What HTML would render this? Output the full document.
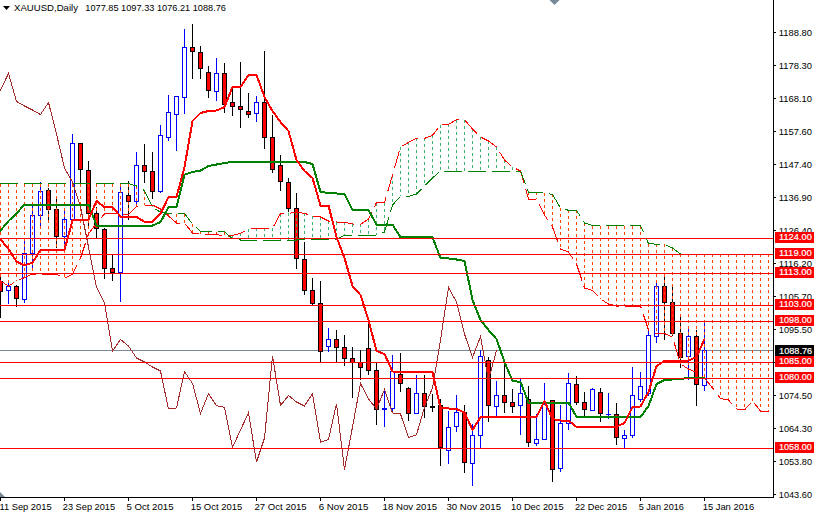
<!DOCTYPE html>
<html><head><meta charset="utf-8"><title>XAUUSD Daily</title>
<style>html,body{margin:0;padding:0;background:#fff;width:814px;height:516px;overflow:hidden}svg{display:block}</style>
</head><body>
<svg width="814" height="516" viewBox="0 0 814 516" shape-rendering="crispEdges">
<rect width="814" height="516" fill="#ffffff"/>
<defs><clipPath id="ca"><rect x="0" y="0" width="773" height="497"/></clipPath></defs>
<g clip-path="url(#ca)">
<line x1="0" y1="350.5" x2="773" y2="350.5" stroke="#778899"/>
<line x1="0.5" y1="276" x2="0.5" y2="318" stroke="#000000"/>
<rect x="-1.5" y="281.5" width="4" height="10" fill="#ff0000" stroke="#000000"/>
<line x1="8.5" y1="282" x2="8.5" y2="304" stroke="#0000ff"/>
<rect x="6.5" y="286.5" width="4" height="4" fill="#ffffff" stroke="#0000ff"/>
<line x1="16.5" y1="285" x2="16.5" y2="307" stroke="#000000"/>
<rect x="14.5" y="286.5" width="4" height="12" fill="#ff0000" stroke="#000000"/>
<line x1="24.5" y1="239" x2="24.5" y2="303" stroke="#0000ff"/>
<rect x="22.5" y="253.5" width="4" height="46" fill="#ffffff" stroke="#0000ff"/>
<line x1="32.5" y1="206" x2="32.5" y2="269" stroke="#0000ff"/>
<rect x="30.5" y="215.5" width="4" height="38" fill="#ffffff" stroke="#0000ff"/>
<line x1="40.5" y1="182" x2="40.5" y2="226" stroke="#0000ff"/>
<rect x="38.5" y="191.5" width="4" height="24" fill="#ffffff" stroke="#0000ff"/>
<line x1="48.5" y1="188" x2="48.5" y2="221" stroke="#000000"/>
<rect x="46.5" y="190.5" width="4" height="19" fill="#ff0000" stroke="#000000"/>
<line x1="56.5" y1="198" x2="56.5" y2="248" stroke="#000000"/>
<rect x="54.5" y="209.5" width="4" height="27" fill="#ff0000" stroke="#000000"/>
<line x1="64.5" y1="211" x2="64.5" y2="247" stroke="#0000ff"/>
<rect x="62.5" y="219.5" width="4" height="17" fill="#ffffff" stroke="#0000ff"/>
<line x1="72.5" y1="134" x2="72.5" y2="222" stroke="#0000ff"/>
<rect x="70.5" y="143.5" width="4" height="76" fill="#ffffff" stroke="#0000ff"/>
<line x1="80.5" y1="143" x2="80.5" y2="185" stroke="#000000"/>
<rect x="78.5" y="143.5" width="4" height="26" fill="#ff0000" stroke="#000000"/>
<line x1="88.5" y1="161" x2="88.5" y2="228" stroke="#000000"/>
<rect x="86.5" y="170.5" width="4" height="43" fill="#ff0000" stroke="#000000"/>
<line x1="96.5" y1="207" x2="96.5" y2="239" stroke="#000000"/>
<rect x="94.5" y="213.5" width="4" height="15" fill="#ff0000" stroke="#000000"/>
<line x1="104.5" y1="228" x2="104.5" y2="279" stroke="#000000"/>
<rect x="102.5" y="229.5" width="4" height="39" fill="#ff0000" stroke="#000000"/>
<line x1="112.5" y1="255" x2="112.5" y2="281" stroke="#000000"/>
<rect x="110.5" y="268.5" width="4" height="4" fill="#ff0000" stroke="#000000"/>
<line x1="120.5" y1="186" x2="120.5" y2="302" stroke="#0000ff"/>
<rect x="118.5" y="192.5" width="4" height="80" fill="#ffffff" stroke="#0000ff"/>
<line x1="128.5" y1="181" x2="128.5" y2="220" stroke="#000000"/>
<rect x="126.5" y="195.5" width="4" height="6" fill="#ff0000" stroke="#000000"/>
<line x1="136.5" y1="152" x2="136.5" y2="207" stroke="#0000ff"/>
<rect x="134.5" y="165.5" width="4" height="36" fill="#ffffff" stroke="#0000ff"/>
<line x1="144.5" y1="144" x2="144.5" y2="183" stroke="#000000"/>
<rect x="142.5" y="165.5" width="4" height="6" fill="#ff0000" stroke="#000000"/>
<line x1="152.5" y1="152" x2="152.5" y2="199" stroke="#000000"/>
<rect x="150.5" y="171.5" width="4" height="20" fill="#ff0000" stroke="#000000"/>
<line x1="160.5" y1="125" x2="160.5" y2="193" stroke="#0000ff"/>
<rect x="158.5" y="135.5" width="4" height="56" fill="#ffffff" stroke="#0000ff"/>
<line x1="168.5" y1="95" x2="168.5" y2="141" stroke="#0000ff"/>
<rect x="166.5" y="112.5" width="4" height="25" fill="#ffffff" stroke="#0000ff"/>
<line x1="176.5" y1="96" x2="176.5" y2="151" stroke="#0000ff"/>
<rect x="174.5" y="96.5" width="4" height="18" fill="#ffffff" stroke="#0000ff"/>
<line x1="184.5" y1="29" x2="184.5" y2="114" stroke="#0000ff"/>
<rect x="182.5" y="47.5" width="4" height="50" fill="#ffffff" stroke="#0000ff"/>
<line x1="192.5" y1="24" x2="192.5" y2="79" stroke="#000000"/>
<rect x="190.5" y="47.5" width="4" height="4" fill="#ff0000" stroke="#000000"/>
<line x1="200.5" y1="46" x2="200.5" y2="79" stroke="#000000"/>
<rect x="198.5" y="52.5" width="4" height="16" fill="#ff0000" stroke="#000000"/>
<line x1="208.5" y1="66" x2="208.5" y2="98" stroke="#000000"/>
<rect x="206.5" y="72.5" width="4" height="18" fill="#ff0000" stroke="#000000"/>
<line x1="216.5" y1="58" x2="216.5" y2="101" stroke="#0000ff"/>
<rect x="214.5" y="73.5" width="4" height="18" fill="#ffffff" stroke="#0000ff"/>
<line x1="224.5" y1="63" x2="224.5" y2="113" stroke="#000000"/>
<rect x="222.5" y="73.5" width="4" height="31" fill="#ff0000" stroke="#000000"/>
<line x1="232.5" y1="86" x2="232.5" y2="116" stroke="#000000"/>
<rect x="230.5" y="102.5" width="4" height="4" fill="#ff0000" stroke="#000000"/>
<line x1="240.5" y1="62" x2="240.5" y2="128" stroke="#000000"/>
<rect x="238.5" y="106.5" width="4" height="3" fill="#ff0000" stroke="#000000"/>
<line x1="248.5" y1="93" x2="248.5" y2="118" stroke="#000000"/>
<rect x="246.5" y="111.5" width="4" height="3" fill="#ff0000" stroke="#000000"/>
<line x1="256.5" y1="96" x2="256.5" y2="122" stroke="#0000ff"/>
<rect x="254.5" y="102.5" width="4" height="11" fill="#ffffff" stroke="#0000ff"/>
<line x1="264.5" y1="51" x2="264.5" y2="149" stroke="#000000"/>
<rect x="262.5" y="102.5" width="4" height="35" fill="#ff0000" stroke="#000000"/>
<line x1="272.5" y1="115" x2="272.5" y2="173" stroke="#000000"/>
<rect x="270.5" y="137.5" width="4" height="32" fill="#ff0000" stroke="#000000"/>
<line x1="280.5" y1="155" x2="280.5" y2="191" stroke="#000000"/>
<rect x="278.5" y="165.5" width="4" height="16" fill="#ff0000" stroke="#000000"/>
<line x1="288.5" y1="178" x2="288.5" y2="212" stroke="#000000"/>
<rect x="286.5" y="182.5" width="4" height="26" fill="#ff0000" stroke="#000000"/>
<line x1="296.5" y1="193" x2="296.5" y2="269" stroke="#000000"/>
<rect x="294.5" y="208.5" width="4" height="50" fill="#ff0000" stroke="#000000"/>
<line x1="304.5" y1="242" x2="304.5" y2="295" stroke="#000000"/>
<rect x="302.5" y="259.5" width="4" height="31" fill="#ff0000" stroke="#000000"/>
<line x1="312.5" y1="278" x2="312.5" y2="306" stroke="#000000"/>
<rect x="310.5" y="290.5" width="4" height="13" fill="#ff0000" stroke="#000000"/>
<line x1="320.5" y1="281" x2="320.5" y2="362" stroke="#000000"/>
<rect x="318.5" y="303.5" width="4" height="48" fill="#ff0000" stroke="#000000"/>
<line x1="328.5" y1="328" x2="328.5" y2="352" stroke="#0000ff"/>
<rect x="326.5" y="339.5" width="4" height="7" fill="#ffffff" stroke="#0000ff"/>
<line x1="336.5" y1="330" x2="336.5" y2="362" stroke="#000000"/>
<rect x="334.5" y="339.5" width="4" height="8" fill="#ff0000" stroke="#000000"/>
<line x1="344.5" y1="335" x2="344.5" y2="366" stroke="#000000"/>
<rect x="342.5" y="347.5" width="4" height="11" fill="#ff0000" stroke="#000000"/>
<line x1="352.5" y1="347" x2="352.5" y2="398" stroke="#000000"/>
<rect x="350.5" y="358.5" width="4" height="4" fill="#ff0000" stroke="#000000"/>
<line x1="360.5" y1="350" x2="360.5" y2="380" stroke="#000000"/>
<rect x="358.5" y="362.5" width="4" height="5" fill="#ff0000" stroke="#000000"/>
<line x1="368.5" y1="324" x2="368.5" y2="375" stroke="#000000"/>
<rect x="366.5" y="348.5" width="4" height="22" fill="#ff0000" stroke="#000000"/>
<line x1="376.5" y1="363" x2="376.5" y2="425" stroke="#000000"/>
<rect x="374.5" y="370.5" width="4" height="39" fill="#ff0000" stroke="#000000"/>
<line x1="384.5" y1="391" x2="384.5" y2="427" stroke="#0000ff"/>
<line x1="382" y1="408.5" x2="387" y2="408.5" stroke="#0000ff"/>
<line x1="382" y1="409.5" x2="387" y2="409.5" stroke="#0000ff"/>
<line x1="392.5" y1="355" x2="392.5" y2="412" stroke="#0000ff"/>
<rect x="390.5" y="371.5" width="4" height="37" fill="#ffffff" stroke="#0000ff"/>
<line x1="400.5" y1="353" x2="400.5" y2="392" stroke="#000000"/>
<rect x="398.5" y="374.5" width="4" height="9" fill="#ff0000" stroke="#000000"/>
<line x1="408.5" y1="387" x2="408.5" y2="421" stroke="#000000"/>
<rect x="406.5" y="388.5" width="4" height="25" fill="#ff0000" stroke="#000000"/>
<line x1="416.5" y1="375" x2="416.5" y2="414" stroke="#0000ff"/>
<rect x="414.5" y="393.5" width="4" height="20" fill="#ffffff" stroke="#0000ff"/>
<line x1="424.5" y1="375" x2="424.5" y2="418" stroke="#000000"/>
<rect x="422.5" y="393.5" width="4" height="13" fill="#ff0000" stroke="#000000"/>
<line x1="432.5" y1="394" x2="432.5" y2="412" stroke="#000000"/>
<line x1="430" y1="406.5" x2="435" y2="406.5" stroke="#000000"/>
<line x1="430" y1="407.5" x2="435" y2="407.5" stroke="#000000"/>
<line x1="440.5" y1="399" x2="440.5" y2="466" stroke="#000000"/>
<rect x="438.5" y="405.5" width="4" height="42" fill="#ff0000" stroke="#000000"/>
<line x1="448.5" y1="411" x2="448.5" y2="464" stroke="#0000ff"/>
<rect x="446.5" y="427.5" width="4" height="23" fill="#ffffff" stroke="#0000ff"/>
<line x1="456.5" y1="395" x2="456.5" y2="432" stroke="#0000ff"/>
<rect x="454.5" y="412.5" width="4" height="14" fill="#ffffff" stroke="#0000ff"/>
<line x1="464.5" y1="405" x2="464.5" y2="473" stroke="#000000"/>
<rect x="462.5" y="412.5" width="4" height="50" fill="#ff0000" stroke="#000000"/>
<line x1="472.5" y1="424" x2="472.5" y2="486" stroke="#0000ff"/>
<rect x="470.5" y="435.5" width="4" height="28" fill="#ffffff" stroke="#0000ff"/>
<line x1="480.5" y1="350" x2="480.5" y2="449" stroke="#0000ff"/>
<rect x="478.5" y="356.5" width="4" height="79" fill="#ffffff" stroke="#0000ff"/>
<line x1="488.5" y1="357" x2="488.5" y2="422" stroke="#000000"/>
<rect x="486.5" y="360.5" width="4" height="45" fill="#ff0000" stroke="#000000"/>
<line x1="496.5" y1="381" x2="496.5" y2="416" stroke="#0000ff"/>
<rect x="494.5" y="395.5" width="4" height="11" fill="#ffffff" stroke="#0000ff"/>
<line x1="504.5" y1="364" x2="504.5" y2="413" stroke="#000000"/>
<rect x="502.5" y="395.5" width="4" height="7" fill="#ff0000" stroke="#000000"/>
<line x1="512.5" y1="389" x2="512.5" y2="413" stroke="#000000"/>
<rect x="510.5" y="402.5" width="4" height="4" fill="#ff0000" stroke="#000000"/>
<line x1="520.5" y1="379" x2="520.5" y2="435" stroke="#0000ff"/>
<rect x="518.5" y="393.5" width="4" height="12" fill="#ffffff" stroke="#0000ff"/>
<line x1="528.5" y1="386" x2="528.5" y2="447" stroke="#000000"/>
<rect x="526.5" y="399.5" width="4" height="43" fill="#ff0000" stroke="#000000"/>
<line x1="536.5" y1="414" x2="536.5" y2="446" stroke="#0000ff"/>
<rect x="534.5" y="439.5" width="4" height="4" fill="#ffffff" stroke="#0000ff"/>
<line x1="544.5" y1="383" x2="544.5" y2="440" stroke="#0000ff"/>
<rect x="542.5" y="404.5" width="4" height="35" fill="#ffffff" stroke="#0000ff"/>
<line x1="552.5" y1="400" x2="552.5" y2="482" stroke="#000000"/>
<rect x="550.5" y="400.5" width="4" height="69" fill="#ff0000" stroke="#000000"/>
<line x1="560.5" y1="405" x2="560.5" y2="472" stroke="#0000ff"/>
<rect x="558.5" y="423.5" width="4" height="45" fill="#ffffff" stroke="#0000ff"/>
<line x1="568.5" y1="373" x2="568.5" y2="430" stroke="#0000ff"/>
<rect x="566.5" y="383.5" width="4" height="40" fill="#ffffff" stroke="#0000ff"/>
<line x1="576.5" y1="376" x2="576.5" y2="405" stroke="#000000"/>
<rect x="574.5" y="384.5" width="4" height="18" fill="#ff0000" stroke="#000000"/>
<line x1="584.5" y1="392" x2="584.5" y2="416" stroke="#000000"/>
<rect x="582.5" y="402.5" width="4" height="7" fill="#ff0000" stroke="#000000"/>
<line x1="592.5" y1="388" x2="592.5" y2="411" stroke="#0000ff"/>
<rect x="590.5" y="389.5" width="4" height="21" fill="#ffffff" stroke="#0000ff"/>
<line x1="600.5" y1="388" x2="600.5" y2="422" stroke="#000000"/>
<rect x="598.5" y="392.5" width="4" height="21" fill="#ff0000" stroke="#000000"/>
<line x1="608.5" y1="393" x2="608.5" y2="419" stroke="#0000ff"/>
<line x1="606" y1="414.5" x2="611" y2="414.5" stroke="#0000ff"/>
<line x1="616.5" y1="403" x2="616.5" y2="445" stroke="#000000"/>
<rect x="614.5" y="414.5" width="4" height="23" fill="#ff0000" stroke="#000000"/>
<line x1="624.5" y1="430" x2="624.5" y2="448" stroke="#0000ff"/>
<rect x="622.5" y="435.5" width="4" height="3" fill="#ffffff" stroke="#0000ff"/>
<line x1="632.5" y1="367" x2="632.5" y2="438" stroke="#0000ff"/>
<rect x="630.5" y="395.5" width="4" height="40" fill="#ffffff" stroke="#0000ff"/>
<line x1="640.5" y1="372" x2="640.5" y2="402" stroke="#0000ff"/>
<rect x="638.5" y="386.5" width="4" height="13" fill="#ffffff" stroke="#0000ff"/>
<line x1="648.5" y1="331" x2="648.5" y2="396" stroke="#0000ff"/>
<rect x="646.5" y="335.5" width="4" height="58" fill="#ffffff" stroke="#0000ff"/>
<line x1="656.5" y1="283" x2="656.5" y2="343" stroke="#0000ff"/>
<rect x="654.5" y="286.5" width="4" height="50" fill="#ffffff" stroke="#0000ff"/>
<line x1="664.5" y1="275" x2="664.5" y2="340" stroke="#000000"/>
<rect x="662.5" y="286.5" width="4" height="16" fill="#ff0000" stroke="#000000"/>
<line x1="672.5" y1="286" x2="672.5" y2="336" stroke="#000000"/>
<rect x="670.5" y="302.5" width="4" height="31" fill="#ff0000" stroke="#000000"/>
<line x1="680.5" y1="317" x2="680.5" y2="368" stroke="#000000"/>
<rect x="678.5" y="333.5" width="4" height="24" fill="#ff0000" stroke="#000000"/>
<line x1="688.5" y1="326" x2="688.5" y2="380" stroke="#0000ff"/>
<rect x="686.5" y="336.5" width="4" height="20" fill="#ffffff" stroke="#0000ff"/>
<line x1="696.5" y1="330" x2="696.5" y2="406" stroke="#000000"/>
<rect x="694.5" y="336.5" width="4" height="48" fill="#ff0000" stroke="#000000"/>
<line x1="704.5" y1="323" x2="704.5" y2="391" stroke="#0000ff"/>
<rect x="702.5" y="350.5" width="4" height="35" fill="#ffffff" stroke="#0000ff"/>
<line x1="0.5" y1="184" x2="0.5" y2="281" stroke="#ff4500" stroke-dasharray="3,3"/>
<line x1="8.5" y1="184" x2="8.5" y2="286" stroke="#ff4500" stroke-dasharray="3,3"/>
<line x1="16.5" y1="184" x2="16.5" y2="281" stroke="#ff4500" stroke-dasharray="3,3"/>
<line x1="24.5" y1="184" x2="24.5" y2="278" stroke="#ff4500" stroke-dasharray="3,3"/>
<line x1="32.5" y1="184" x2="32.5" y2="274" stroke="#ff4500" stroke-dasharray="3,3"/>
<line x1="40.5" y1="184" x2="40.5" y2="274" stroke="#ff4500" stroke-dasharray="3,3"/>
<line x1="48.5" y1="184" x2="48.5" y2="274" stroke="#ff4500" stroke-dasharray="3,3"/>
<line x1="56.5" y1="184" x2="56.5" y2="274" stroke="#ff4500" stroke-dasharray="3,3"/>
<line x1="64.5" y1="184" x2="64.5" y2="278" stroke="#ff4500" stroke-dasharray="3,3"/>
<line x1="72.5" y1="184" x2="72.5" y2="274" stroke="#ff4500" stroke-dasharray="3,3"/>
<line x1="80.5" y1="184" x2="80.5" y2="258" stroke="#ff4500" stroke-dasharray="3,3"/>
<line x1="88.5" y1="184" x2="88.5" y2="234" stroke="#ff4500" stroke-dasharray="3,3"/>
<line x1="96.5" y1="184" x2="96.5" y2="223" stroke="#ff4500" stroke-dasharray="3,3"/>
<line x1="104.5" y1="184" x2="104.5" y2="214" stroke="#ff4500" stroke-dasharray="3,3"/>
<line x1="112.5" y1="184" x2="112.5" y2="214" stroke="#ff4500" stroke-dasharray="3,3"/>
<line x1="120.5" y1="184" x2="120.5" y2="214" stroke="#ff4500" stroke-dasharray="3,3"/>
<line x1="128.5" y1="184" x2="128.5" y2="214" stroke="#ff4500" stroke-dasharray="3,3"/>
<line x1="136.5" y1="186" x2="136.5" y2="206" stroke="#ff4500" stroke-dasharray="3,3"/>
<line x1="144.5" y1="191" x2="144.5" y2="205" stroke="#ff4500" stroke-dasharray="3,3"/>
<line x1="152.5" y1="205" x2="152.5" y2="207" stroke="#3cb371" stroke-dasharray="3,3"/>
<line x1="160.5" y1="209" x2="160.5" y2="212" stroke="#3cb371" stroke-dasharray="3,3"/>
<line x1="168.5" y1="214" x2="168.5" y2="216" stroke="#ff4500" stroke-dasharray="3,3"/>
<line x1="176.5" y1="214" x2="176.5" y2="223" stroke="#ff4500" stroke-dasharray="3,3"/>
<line x1="184.5" y1="214" x2="184.5" y2="223" stroke="#ff4500" stroke-dasharray="3,3"/>
<line x1="192.5" y1="224" x2="192.5" y2="233" stroke="#ff4500" stroke-dasharray="3,3"/>
<line x1="200.5" y1="232" x2="200.5" y2="234" stroke="#ff4500" stroke-dasharray="3,3"/>
<line x1="208.5" y1="232" x2="208.5" y2="235" stroke="#ff4500" stroke-dasharray="3,3"/>
<line x1="216.5" y1="232" x2="216.5" y2="234" stroke="#ff4500" stroke-dasharray="3,3"/>
<line x1="224.5" y1="232" x2="224.5" y2="237" stroke="#ff4500" stroke-dasharray="3,3"/>
<line x1="232.5" y1="235" x2="232.5" y2="239" stroke="#3cb371" stroke-dasharray="3,3"/>
<line x1="240.5" y1="233" x2="240.5" y2="240" stroke="#3cb371" stroke-dasharray="3,3"/>
<line x1="248.5" y1="229" x2="248.5" y2="240" stroke="#3cb371" stroke-dasharray="3,3"/>
<line x1="256.5" y1="228" x2="256.5" y2="240" stroke="#3cb371" stroke-dasharray="3,3"/>
<line x1="264.5" y1="228" x2="264.5" y2="240" stroke="#3cb371" stroke-dasharray="3,3"/>
<line x1="272.5" y1="228" x2="272.5" y2="240" stroke="#3cb371" stroke-dasharray="3,3"/>
<line x1="280.5" y1="214" x2="280.5" y2="240" stroke="#3cb371" stroke-dasharray="3,3"/>
<line x1="288.5" y1="213" x2="288.5" y2="240" stroke="#3cb371" stroke-dasharray="3,3"/>
<line x1="296.5" y1="212" x2="296.5" y2="240" stroke="#3cb371" stroke-dasharray="3,3"/>
<line x1="304.5" y1="213" x2="304.5" y2="239" stroke="#3cb371" stroke-dasharray="3,3"/>
<line x1="312.5" y1="216" x2="312.5" y2="239" stroke="#3cb371" stroke-dasharray="3,3"/>
<line x1="320.5" y1="217" x2="320.5" y2="239" stroke="#3cb371" stroke-dasharray="3,3"/>
<line x1="328.5" y1="221" x2="328.5" y2="239" stroke="#3cb371" stroke-dasharray="3,3"/>
<line x1="336.5" y1="222" x2="336.5" y2="239" stroke="#3cb371" stroke-dasharray="3,3"/>
<line x1="344.5" y1="222" x2="344.5" y2="235" stroke="#3cb371" stroke-dasharray="3,3"/>
<line x1="352.5" y1="224" x2="352.5" y2="235" stroke="#3cb371" stroke-dasharray="3,3"/>
<line x1="360.5" y1="224" x2="360.5" y2="235" stroke="#3cb371" stroke-dasharray="3,3"/>
<line x1="368.5" y1="219" x2="368.5" y2="235" stroke="#3cb371" stroke-dasharray="3,3"/>
<line x1="376.5" y1="203" x2="376.5" y2="235" stroke="#3cb371" stroke-dasharray="3,3"/>
<line x1="384.5" y1="203" x2="384.5" y2="232" stroke="#3cb371" stroke-dasharray="3,3"/>
<line x1="392.5" y1="175" x2="392.5" y2="205" stroke="#3cb371" stroke-dasharray="3,3"/>
<line x1="400.5" y1="147" x2="400.5" y2="196" stroke="#3cb371" stroke-dasharray="3,3"/>
<line x1="408.5" y1="142" x2="408.5" y2="196" stroke="#3cb371" stroke-dasharray="3,3"/>
<line x1="416.5" y1="138" x2="416.5" y2="194" stroke="#3cb371" stroke-dasharray="3,3"/>
<line x1="424.5" y1="138" x2="424.5" y2="186" stroke="#3cb371" stroke-dasharray="3,3"/>
<line x1="432.5" y1="135" x2="432.5" y2="178" stroke="#3cb371" stroke-dasharray="3,3"/>
<line x1="440.5" y1="125" x2="440.5" y2="171" stroke="#3cb371" stroke-dasharray="3,3"/>
<line x1="448.5" y1="124" x2="448.5" y2="171" stroke="#3cb371" stroke-dasharray="3,3"/>
<line x1="456.5" y1="120" x2="456.5" y2="171" stroke="#3cb371" stroke-dasharray="3,3"/>
<line x1="464.5" y1="120" x2="464.5" y2="171" stroke="#3cb371" stroke-dasharray="3,3"/>
<line x1="472.5" y1="129" x2="472.5" y2="171" stroke="#3cb371" stroke-dasharray="3,3"/>
<line x1="480.5" y1="137" x2="480.5" y2="171" stroke="#3cb371" stroke-dasharray="3,3"/>
<line x1="488.5" y1="141" x2="488.5" y2="171" stroke="#3cb371" stroke-dasharray="3,3"/>
<line x1="496.5" y1="147" x2="496.5" y2="171" stroke="#3cb371" stroke-dasharray="3,3"/>
<line x1="504.5" y1="160" x2="504.5" y2="171" stroke="#3cb371" stroke-dasharray="3,3"/>
<line x1="512.5" y1="167" x2="512.5" y2="171" stroke="#3cb371" stroke-dasharray="3,3"/>
<line x1="528.5" y1="192" x2="528.5" y2="199" stroke="#ff4500" stroke-dasharray="3,3"/>
<line x1="536.5" y1="192" x2="536.5" y2="199" stroke="#ff4500" stroke-dasharray="3,3"/>
<line x1="544.5" y1="193" x2="544.5" y2="215" stroke="#ff4500" stroke-dasharray="3,3"/>
<line x1="552.5" y1="194" x2="552.5" y2="227" stroke="#ff4500" stroke-dasharray="3,3"/>
<line x1="560.5" y1="208" x2="560.5" y2="249" stroke="#ff4500" stroke-dasharray="3,3"/>
<line x1="568.5" y1="210" x2="568.5" y2="252" stroke="#ff4500" stroke-dasharray="3,3"/>
<line x1="576.5" y1="210" x2="576.5" y2="264" stroke="#ff4500" stroke-dasharray="3,3"/>
<line x1="584.5" y1="223" x2="584.5" y2="288" stroke="#ff4500" stroke-dasharray="3,3"/>
<line x1="592.5" y1="226" x2="592.5" y2="290" stroke="#ff4500" stroke-dasharray="3,3"/>
<line x1="600.5" y1="226" x2="600.5" y2="299" stroke="#ff4500" stroke-dasharray="3,3"/>
<line x1="608.5" y1="226" x2="608.5" y2="304" stroke="#ff4500" stroke-dasharray="3,3"/>
<line x1="616.5" y1="226" x2="616.5" y2="306" stroke="#ff4500" stroke-dasharray="3,3"/>
<line x1="624.5" y1="226" x2="624.5" y2="306" stroke="#ff4500" stroke-dasharray="3,3"/>
<line x1="632.5" y1="226" x2="632.5" y2="306" stroke="#ff4500" stroke-dasharray="3,3"/>
<line x1="640.5" y1="226" x2="640.5" y2="306" stroke="#ff4500" stroke-dasharray="3,3"/>
<line x1="648.5" y1="244" x2="648.5" y2="330" stroke="#ff4500" stroke-dasharray="3,3"/>
<line x1="656.5" y1="244" x2="656.5" y2="334" stroke="#ff4500" stroke-dasharray="3,3"/>
<line x1="664.5" y1="244" x2="664.5" y2="334" stroke="#ff4500" stroke-dasharray="3,3"/>
<line x1="672.5" y1="248" x2="672.5" y2="337" stroke="#ff4500" stroke-dasharray="3,3"/>
<line x1="680.5" y1="254" x2="680.5" y2="364" stroke="#ff4500" stroke-dasharray="3,3"/>
<line x1="688.5" y1="254" x2="688.5" y2="369" stroke="#ff4500" stroke-dasharray="3,3"/>
<line x1="696.5" y1="254" x2="696.5" y2="372" stroke="#ff4500" stroke-dasharray="3,3"/>
<line x1="704.5" y1="254" x2="704.5" y2="378" stroke="#ff4500" stroke-dasharray="3,3"/>
<line x1="712.5" y1="254" x2="712.5" y2="388" stroke="#ff4500" stroke-dasharray="3,3"/>
<line x1="720.5" y1="254" x2="720.5" y2="398" stroke="#ff4500" stroke-dasharray="3,3"/>
<line x1="728.5" y1="254" x2="728.5" y2="400" stroke="#ff4500" stroke-dasharray="3,3"/>
<line x1="736.5" y1="254" x2="736.5" y2="409" stroke="#ff4500" stroke-dasharray="3,3"/>
<line x1="744.5" y1="254" x2="744.5" y2="410" stroke="#ff4500" stroke-dasharray="3,3"/>
<line x1="752.5" y1="254" x2="752.5" y2="401" stroke="#ff4500" stroke-dasharray="3,3"/>
<line x1="760.5" y1="254" x2="760.5" y2="411" stroke="#ff4500" stroke-dasharray="3,3"/>
<line x1="768.5" y1="254" x2="768.5" y2="412" stroke="#ff4500" stroke-dasharray="3,3"/>
<polyline points="-7.5,276.00 0.5,281.00 8.5,286.00 16.5,281.00 24.5,277.60 32.5,274.00 40.5,274.00 48.5,274.50 56.5,274.40 64.5,278.40 72.5,274.00 80.5,258.00 88.5,234.00 96.5,223.00 104.5,214.00 112.5,213.70 120.5,214.30 128.5,214.30 136.5,206.50 144.5,205.00 152.5,205.00 160.5,209.00 168.5,216.00 176.5,223.00 184.5,223.00 192.5,233.00 200.5,233.50 208.5,235.00 216.5,234.00 224.5,237.00 232.5,235.40 240.5,233.30 248.5,229.00 256.5,228.30 264.5,228.30 272.5,228.30 280.5,213.50 288.5,213.30 296.5,212.50 304.5,213.30 312.5,216.00 320.5,217.00 328.5,221.00 336.5,222.00 344.5,222.40 352.5,224.00 360.5,224.50 368.5,219.00 376.5,202.60 384.5,202.60 392.5,175.00 400.5,147.00 408.5,142.40 416.5,138.40 424.5,138.40 432.5,135.30 440.5,125.00 448.5,124.50 456.5,119.60 464.5,119.60 472.5,129.00 480.5,137.00 488.5,141.00 496.5,147.00 504.5,160.00 512.5,167.00 520.5,171.00 528.5,199.00 536.5,199.00 544.5,215.00 552.5,227.00 560.5,249.00 568.5,252.00 576.5,264.00 584.5,288.00 592.5,290.50 600.5,299.00 608.5,304.00 616.5,306.00 624.5,306.00 632.5,306.00 640.5,306.00 648.5,330.00 656.5,333.60 664.5,333.60 672.5,337.00 680.5,364.00 688.5,369.00 696.5,372.50 704.5,378.00 712.5,388.00 720.5,398.50 728.5,400.00 736.5,409.00 744.5,410.00 752.5,401.00 760.5,411.00 768.5,412.00" fill="none" stroke="#ff0000" stroke-dasharray="18,6" stroke-dashoffset="16.5"/>
<polyline points="-7.5,183.50 0.5,183.50 8.5,183.50 16.5,183.50 24.5,183.50 32.5,183.50 40.5,183.50 48.5,183.50 56.5,183.50 64.5,183.50 72.5,183.50 80.5,183.50 88.5,183.50 96.5,183.50 104.5,183.50 112.5,183.50 120.5,183.50 128.5,183.50 136.5,186.00 144.5,190.60 152.5,207.00 160.5,212.30 168.5,213.60 176.5,213.60 184.5,213.60 192.5,224.00 200.5,231.50 208.5,231.50 216.5,231.50 224.5,231.50 232.5,239.00 240.5,240.00 248.5,240.00 256.5,240.00 264.5,240.00 272.5,240.00 280.5,240.00 288.5,240.00 296.5,240.00 304.5,239.30 312.5,239.30 320.5,239.30 328.5,239.30 336.5,239.30 344.5,235.10 352.5,235.10 360.5,235.10 368.5,235.10 376.5,235.10 384.5,232.00 392.5,205.00 400.5,196.40 408.5,196.40 416.5,194.00 424.5,186.00 432.5,178.00 440.5,171.00 448.5,171.00 456.5,171.00 464.5,171.00 472.5,171.00 480.5,171.00 488.5,171.00 496.5,171.00 504.5,171.00 512.5,171.00 520.5,171.00 528.5,192.40 536.5,192.40 544.5,193.00 552.5,194.40 560.5,208.00 568.5,210.30 576.5,210.30 584.5,223.00 592.5,225.50 600.5,225.50 608.5,225.50 616.5,225.50 624.5,225.50 632.5,225.50 640.5,225.50 648.5,243.50 656.5,244.30 664.5,244.30 672.5,248.00 680.5,254.00 688.5,254.00 696.5,254.00 704.5,254.00 712.5,254.00 720.5,254.00 728.5,254.00 736.5,254.00 744.5,254.00 752.5,254.00 760.5,254.00 768.5,254.00" fill="none" stroke="#008000" stroke-dasharray="18,6" stroke-dashoffset="16.5"/>
<polyline points="-7.5,106.60 0.5,90.00 8.5,73.40 16.5,101.50 24.5,106.00 32.5,110.00 40.5,114.50 48.5,102.50 56.5,134.00 64.5,168.00 72.5,182.00 80.5,207.00 88.5,247.00 96.5,287.00 104.5,303.00 112.5,351.00 120.5,339.50 128.5,346.00 136.5,358.00 144.5,362.00 152.5,367.00 160.5,371.00 168.5,409.00 176.5,408.00 184.5,371.50 192.5,383.50 200.5,413.40 208.5,393.50 216.5,405.80 224.5,407.20 232.5,447.30 240.5,430.00 248.5,412.70 256.5,462.00 264.5,438.00 272.5,356.00 280.5,405.50 288.5,395.50 296.5,402.00 304.5,406.00 312.5,393.50 320.5,442.00 328.5,439.50 336.5,403.60 344.5,469.50 352.5,427.00 360.5,383.50 368.5,399.00 376.5,409.00 384.5,389.50 392.5,413.00 400.5,414.00 408.5,437.40 416.5,434.80 424.5,407.00 432.5,388.00 440.5,340.00 448.5,287.50 456.5,302.00 464.5,334.00 472.5,357.50 480.5,336.60 488.5,380.00 496.5,350.50" fill="none" stroke="#a52a2a" stroke-width="1"/>
<polyline points="-7.5,240.00 0.5,230.50 8.5,221.00 16.5,213.50 24.5,204.50 32.5,204.50 40.5,204.50 48.5,204.50 56.5,204.50 64.5,204.50 72.5,204.50 80.5,204.50 88.5,204.50 96.5,225.50 104.5,225.50 112.5,225.50 120.5,225.50 128.5,225.50 136.5,225.50 144.5,225.50 152.5,225.50 160.5,222.00 168.5,207.30 176.5,207.30 184.5,174.60 192.5,172.00 200.5,170.50 208.5,166.00 216.5,164.50 224.5,163.00 232.5,162.00 240.5,162.00 248.5,162.00 256.5,162.00 264.5,162.00 272.5,162.00 280.5,162.00 288.5,162.00 296.5,162.00 304.5,162.00 312.5,164.00 320.5,192.00 328.5,193.00 336.5,193.50 344.5,194.00 352.5,210.00 360.5,210.00 368.5,210.00 376.5,224.60 384.5,224.60 392.5,224.60 400.5,237.30 408.5,237.30 416.5,237.30 424.5,237.30 432.5,237.30 440.5,258.00 448.5,258.50 456.5,259.50 464.5,261.00 472.5,300.00 480.5,320.00 488.5,330.00 496.5,339.00 504.5,362.00 512.5,381.00 520.5,382.00 528.5,402.50 536.5,402.50 544.5,402.50 552.5,402.50 560.5,402.50 568.5,402.50 576.5,417.00 584.5,417.00 592.5,417.00 600.5,417.00 608.5,417.00 616.5,417.00 624.5,417.00 632.5,417.00 640.5,417.00 648.5,406.00 656.5,384.00 664.5,380.00 672.5,379.50 680.5,379.00 688.5,378.00 696.5,378.00 704.5,378.00" fill="none" stroke="#008000" stroke-width="2" stroke-linejoin="round"/>
<polyline points="-7.5,229.60 0.5,239.30 8.5,249.00 16.5,261.50 24.5,265.50 32.5,262.50 40.5,250.00 48.5,250.00 56.5,250.00 64.5,250.00 72.5,220.50 80.5,220.00 88.5,219.50 96.5,201.00 104.5,207.00 112.5,207.00 120.5,216.50 128.5,216.50 136.5,217.00 144.5,221.80 152.5,221.80 160.5,213.60 168.5,197.20 176.5,197.00 184.5,167.00 192.5,121.00 200.5,113.00 208.5,111.00 216.5,110.50 224.5,107.00 232.5,86.80 240.5,86.80 248.5,75.00 256.5,75.00 264.5,97.00 272.5,111.00 280.5,122.00 288.5,131.00 296.5,160.00 304.5,171.00 312.5,178.00 320.5,205.50 328.5,205.50 336.5,237.00 344.5,258.00 352.5,286.00 360.5,295.00 368.5,320.00 376.5,351.00 384.5,354.00 392.5,371.50 400.5,372.00 408.5,372.00 416.5,372.00 424.5,372.00 432.5,372.50 440.5,408.00 448.5,408.50 456.5,409.00 464.5,412.50 472.5,430.00 480.5,417.00 488.5,417.00 496.5,417.00 504.5,417.00 512.5,417.00 520.5,417.00 528.5,417.00 536.5,417.00 544.5,401.00 552.5,419.00 560.5,420.50 568.5,420.50 576.5,427.00 584.5,427.00 592.5,427.00 600.5,427.00 608.5,427.00 616.5,426.50 624.5,423.00 632.5,407.00 640.5,406.50 648.5,392.00 656.5,366.00 664.5,361.00 672.5,361.00 680.5,361.00 688.5,360.50 696.5,357.00 704.5,339.00" fill="none" stroke="#ff0000" stroke-width="2" stroke-linejoin="round"/>
<line x1="0" y1="238.5" x2="773" y2="238.5" stroke="#ff0000"/>
<line x1="0" y1="254.5" x2="773" y2="254.5" stroke="#ff0000"/>
<line x1="0" y1="273.5" x2="773" y2="273.5" stroke="#ff0000"/>
<line x1="0" y1="305.5" x2="773" y2="305.5" stroke="#ff0000"/>
<line x1="0" y1="321.5" x2="773" y2="321.5" stroke="#ff0000"/>
<line x1="0" y1="362.5" x2="773" y2="362.5" stroke="#ff0000"/>
<line x1="0" y1="378.5" x2="773" y2="378.5" stroke="#ff0000"/>
<line x1="0" y1="448.5" x2="773" y2="448.5" stroke="#ff0000"/>
</g>
<line x1="773.5" y1="0" x2="773.5" y2="498" stroke="#000"/>
<line x1="0" y1="497.5" x2="774" y2="497.5" stroke="#000"/>
<line x1="774" y1="32.5" x2="776" y2="32.5" stroke="#000"/>
<text x="778.8" y="36" font-family="Liberation Sans, sans-serif" stroke-width="0.2" paint-order="stroke" font-size="9.6" fill="#000" textLength="33.2" lengthAdjust="spacingAndGlyphs">1188.80</text>
<line x1="774" y1="65.5" x2="776" y2="65.5" stroke="#000"/>
<text x="778.8" y="69" font-family="Liberation Sans, sans-serif" stroke-width="0.2" paint-order="stroke" font-size="9.6" fill="#000" textLength="33.2" lengthAdjust="spacingAndGlyphs">1178.30</text>
<line x1="774" y1="98.5" x2="776" y2="98.5" stroke="#000"/>
<text x="778.8" y="102" font-family="Liberation Sans, sans-serif" stroke-width="0.2" paint-order="stroke" font-size="9.6" fill="#000" textLength="33.2" lengthAdjust="spacingAndGlyphs">1168.10</text>
<line x1="774" y1="131.5" x2="776" y2="131.5" stroke="#000"/>
<text x="778.8" y="135" font-family="Liberation Sans, sans-serif" stroke-width="0.2" paint-order="stroke" font-size="9.6" fill="#000" textLength="33.2" lengthAdjust="spacingAndGlyphs">1157.60</text>
<line x1="774" y1="164.5" x2="776" y2="164.5" stroke="#000"/>
<text x="778.8" y="168" font-family="Liberation Sans, sans-serif" stroke-width="0.2" paint-order="stroke" font-size="9.6" fill="#000" textLength="33.2" lengthAdjust="spacingAndGlyphs">1147.40</text>
<line x1="774" y1="197.5" x2="776" y2="197.5" stroke="#000"/>
<text x="778.8" y="201" font-family="Liberation Sans, sans-serif" stroke-width="0.2" paint-order="stroke" font-size="9.6" fill="#000" textLength="33.2" lengthAdjust="spacingAndGlyphs">1136.90</text>
<line x1="774" y1="230.5" x2="776" y2="230.5" stroke="#000"/>
<text x="778.8" y="234" font-family="Liberation Sans, sans-serif" stroke-width="0.2" paint-order="stroke" font-size="9.6" fill="#000" textLength="33.2" lengthAdjust="spacingAndGlyphs">1126.40</text>
<line x1="774" y1="263.5" x2="776" y2="263.5" stroke="#000"/>
<text x="778.8" y="267" font-family="Liberation Sans, sans-serif" stroke-width="0.2" paint-order="stroke" font-size="9.6" fill="#000" textLength="33.2" lengthAdjust="spacingAndGlyphs">1116.20</text>
<line x1="774" y1="296.5" x2="776" y2="296.5" stroke="#000"/>
<text x="778.8" y="300" font-family="Liberation Sans, sans-serif" stroke-width="0.2" paint-order="stroke" font-size="9.6" fill="#000" textLength="33.2" lengthAdjust="spacingAndGlyphs">1105.70</text>
<line x1="774" y1="329.5" x2="776" y2="329.5" stroke="#000"/>
<text x="778.8" y="333" font-family="Liberation Sans, sans-serif" stroke-width="0.2" paint-order="stroke" font-size="9.6" fill="#000" textLength="33.2" lengthAdjust="spacingAndGlyphs">1095.50</text>
<line x1="774" y1="362.5" x2="776" y2="362.5" stroke="#000"/>
<text x="778.8" y="366" font-family="Liberation Sans, sans-serif" stroke-width="0.2" paint-order="stroke" font-size="9.6" fill="#000" textLength="33.2" lengthAdjust="spacingAndGlyphs">1085.00</text>
<line x1="774" y1="395.5" x2="776" y2="395.5" stroke="#000"/>
<text x="778.8" y="399" font-family="Liberation Sans, sans-serif" stroke-width="0.2" paint-order="stroke" font-size="9.6" fill="#000" textLength="33.2" lengthAdjust="spacingAndGlyphs">1074.50</text>
<line x1="774" y1="428.5" x2="776" y2="428.5" stroke="#000"/>
<text x="778.8" y="432" font-family="Liberation Sans, sans-serif" stroke-width="0.2" paint-order="stroke" font-size="9.6" fill="#000" textLength="33.2" lengthAdjust="spacingAndGlyphs">1064.30</text>
<line x1="774" y1="461.5" x2="776" y2="461.5" stroke="#000"/>
<text x="778.8" y="465" font-family="Liberation Sans, sans-serif" stroke-width="0.2" paint-order="stroke" font-size="9.6" fill="#000" textLength="33.2" lengthAdjust="spacingAndGlyphs">1053.80</text>
<line x1="774" y1="494.5" x2="776" y2="494.5" stroke="#000"/>
<text x="778.8" y="498" font-family="Liberation Sans, sans-serif" stroke-width="0.2" paint-order="stroke" font-size="9.6" fill="#000" textLength="33.2" lengthAdjust="spacingAndGlyphs">1043.60</text>
<line x1="0.5" y1="498" x2="0.5" y2="501" stroke="#000"/>
<text x="-0.6" y="510" font-family="Liberation Sans, sans-serif" stroke-width="0.2" paint-order="stroke" font-size="9.6" fill="#000" textLength="52.2" lengthAdjust="spacingAndGlyphs">11 Sep 2015</text>
<line x1="64.5" y1="498" x2="64.5" y2="501" stroke="#000"/>
<text x="62.8" y="510" font-family="Liberation Sans, sans-serif" stroke-width="0.2" paint-order="stroke" font-size="9.6" fill="#000" textLength="52.3" lengthAdjust="spacingAndGlyphs">23 Sep 2015</text>
<line x1="128.5" y1="498" x2="128.5" y2="501" stroke="#000"/>
<text x="126.4" y="510" font-family="Liberation Sans, sans-serif" stroke-width="0.2" paint-order="stroke" font-size="9.6" fill="#000" textLength="47.2" lengthAdjust="spacingAndGlyphs">5 Oct 2015</text>
<line x1="192.5" y1="498" x2="192.5" y2="501" stroke="#000"/>
<text x="190.7" y="510" font-family="Liberation Sans, sans-serif" stroke-width="0.2" paint-order="stroke" font-size="9.6" fill="#000" textLength="51.5" lengthAdjust="spacingAndGlyphs">15 Oct 2015</text>
<line x1="256.5" y1="498" x2="256.5" y2="501" stroke="#000"/>
<text x="254.5" y="510" font-family="Liberation Sans, sans-serif" stroke-width="0.2" paint-order="stroke" font-size="9.6" fill="#000" textLength="52.2" lengthAdjust="spacingAndGlyphs">27 Oct 2015</text>
<line x1="320.5" y1="498" x2="320.5" y2="501" stroke="#000"/>
<text x="318.7" y="510" font-family="Liberation Sans, sans-serif" stroke-width="0.2" paint-order="stroke" font-size="9.6" fill="#000" textLength="49.6" lengthAdjust="spacingAndGlyphs">6 Nov 2015</text>
<line x1="384.5" y1="498" x2="384.5" y2="501" stroke="#000"/>
<text x="382.6" y="510" font-family="Liberation Sans, sans-serif" stroke-width="0.2" paint-order="stroke" font-size="9.6" fill="#000" textLength="54.5" lengthAdjust="spacingAndGlyphs">18 Nov 2015</text>
<line x1="448.5" y1="498" x2="448.5" y2="501" stroke="#000"/>
<text x="446.5" y="510" font-family="Liberation Sans, sans-serif" stroke-width="0.2" paint-order="stroke" font-size="9.6" fill="#000" textLength="54.5" lengthAdjust="spacingAndGlyphs">30 Nov 2015</text>
<line x1="512.5" y1="498" x2="512.5" y2="501" stroke="#000"/>
<text x="511.0" y="510" font-family="Liberation Sans, sans-serif" stroke-width="0.2" paint-order="stroke" font-size="9.6" fill="#000" textLength="52.6" lengthAdjust="spacingAndGlyphs">10 Dec 2015</text>
<line x1="576.5" y1="498" x2="576.5" y2="501" stroke="#000"/>
<text x="575.0" y="510" font-family="Liberation Sans, sans-serif" stroke-width="0.2" paint-order="stroke" font-size="9.6" fill="#000" textLength="52.2" lengthAdjust="spacingAndGlyphs">22 Dec 2015</text>
<line x1="640.5" y1="498" x2="640.5" y2="501" stroke="#000"/>
<text x="638.7" y="510" font-family="Liberation Sans, sans-serif" stroke-width="0.2" paint-order="stroke" font-size="9.6" fill="#000" textLength="45.2" lengthAdjust="spacingAndGlyphs">5 Jan 2016</text>
<line x1="704.5" y1="498" x2="704.5" y2="501" stroke="#000"/>
<text x="702.7" y="510" font-family="Liberation Sans, sans-serif" stroke-width="0.2" paint-order="stroke" font-size="9.6" fill="#000" textLength="51.6" lengthAdjust="spacingAndGlyphs">15 Jan 2016</text>
<rect x="775" y="232" width="39" height="11" fill="#ff0000"/>
<text x="779.0" y="240.4" font-family="Liberation Sans, sans-serif" stroke-width="0.2" paint-order="stroke" font-size="9.6" fill="#fff" stroke="#fff" textLength="32.8" lengthAdjust="spacingAndGlyphs">1124.00</text>
<rect x="775" y="248" width="39" height="11" fill="#ff0000"/>
<text x="779.0" y="256.4" font-family="Liberation Sans, sans-serif" stroke-width="0.2" paint-order="stroke" font-size="9.6" fill="#fff" stroke="#fff" textLength="32.8" lengthAdjust="spacingAndGlyphs">1119.00</text>
<rect x="775" y="267" width="39" height="11" fill="#ff0000"/>
<text x="779.0" y="275.4" font-family="Liberation Sans, sans-serif" stroke-width="0.2" paint-order="stroke" font-size="9.6" fill="#fff" stroke="#fff" textLength="32.8" lengthAdjust="spacingAndGlyphs">1113.00</text>
<rect x="775" y="299" width="39" height="11" fill="#ff0000"/>
<text x="779.0" y="307.4" font-family="Liberation Sans, sans-serif" stroke-width="0.2" paint-order="stroke" font-size="9.6" fill="#fff" stroke="#fff" textLength="32.8" lengthAdjust="spacingAndGlyphs">1103.00</text>
<rect x="775" y="315" width="39" height="11" fill="#ff0000"/>
<text x="779.0" y="323.4" font-family="Liberation Sans, sans-serif" stroke-width="0.2" paint-order="stroke" font-size="9.6" fill="#fff" stroke="#fff" textLength="32.8" lengthAdjust="spacingAndGlyphs">1098.00</text>
<rect x="775" y="356" width="39" height="11" fill="#ff0000"/>
<text x="779.0" y="364.4" font-family="Liberation Sans, sans-serif" stroke-width="0.2" paint-order="stroke" font-size="9.6" fill="#fff" stroke="#fff" textLength="32.8" lengthAdjust="spacingAndGlyphs">1085.00</text>
<rect x="775" y="372" width="39" height="11" fill="#ff0000"/>
<text x="779.0" y="380.4" font-family="Liberation Sans, sans-serif" stroke-width="0.2" paint-order="stroke" font-size="9.6" fill="#fff" stroke="#fff" textLength="32.8" lengthAdjust="spacingAndGlyphs">1080.00</text>
<rect x="775" y="442" width="39" height="11" fill="#ff0000"/>
<text x="779.0" y="450.4" font-family="Liberation Sans, sans-serif" stroke-width="0.2" paint-order="stroke" font-size="9.6" fill="#fff" stroke="#fff" textLength="32.8" lengthAdjust="spacingAndGlyphs">1058.00</text>
<rect x="775" y="345" width="39" height="11" fill="#000"/>
<text x="779.1" y="354" font-family="Liberation Sans, sans-serif" stroke-width="0.2" paint-order="stroke" font-size="9.6" fill="#fff" stroke="#fff" textLength="33.1" lengthAdjust="spacingAndGlyphs">1088.76</text>
<polygon points="3,6 10,6 6.5,10" fill="#000" shape-rendering="auto"/>
<text x="14.1" y="11" font-family="Liberation Sans, sans-serif" stroke-width="0.2" paint-order="stroke" font-size="9.6" fill="#000" textLength="63.9" lengthAdjust="spacingAndGlyphs">XAUUSD,Daily</text>
<text x="85.3" y="11" font-family="Liberation Sans, sans-serif" stroke-width="0.2" paint-order="stroke" font-size="9.6" fill="#000" textLength="140.7" lengthAdjust="spacingAndGlyphs">1077.85 1097.33 1076.21 1088.76</text>
<polygon points="549.5,0 559.5,0 554.5,5" fill="#778899" shape-rendering="auto"/>
<polygon points="0,492 0,497 5,497" fill="#778899" shape-rendering="auto"/>
</svg>
</body></html>
